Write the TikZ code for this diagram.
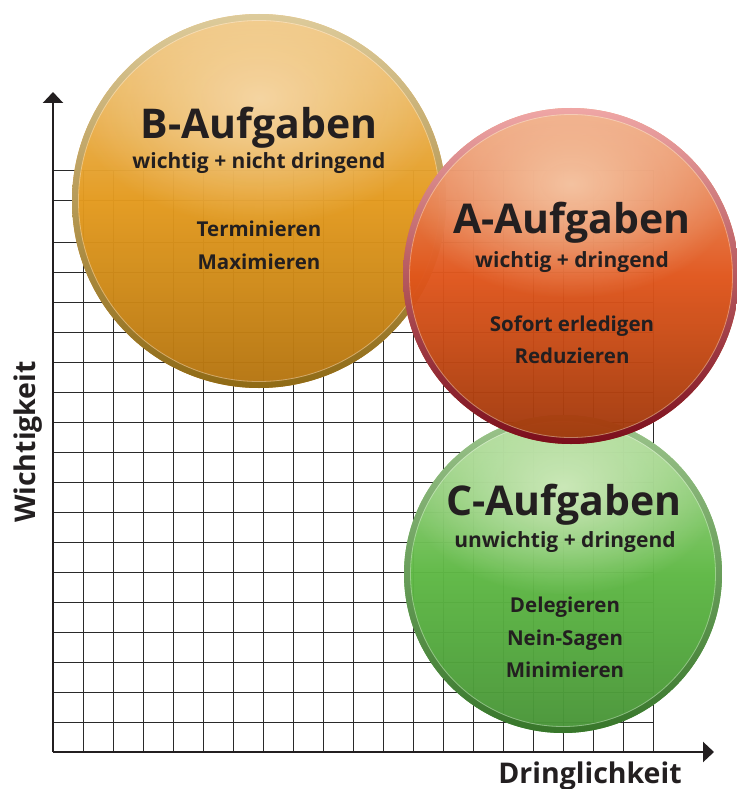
\documentclass[tikz,border=0pt]{standalone}
\usepackage{fontspec}
\setmainfont{Open Sans}
\usetikzlibrary{arrows.meta,fadings}
\definecolor{ink}{HTML}{231F20}
\definecolor{gridgray}{HTML}{2A2A2A}
% colours of the three balls
\definecolor{bSpot}{HTML}{F5D5A2}
\definecolor{bLight}{HTML}{F0C680}
\definecolor{bMid}{HTML}{E39A1E}
\definecolor{bDark}{HTML}{B47410}
\definecolor{bRingTop}{HTML}{DDCB9C}
\definecolor{bRingBot}{HTML}{8E6A16}
\definecolor{aSpot}{HTML}{F4C2A0}
\definecolor{aLight}{HTML}{F0AA84}
\definecolor{aMid}{HTML}{E0561C}
\definecolor{aDark}{HTML}{9E380C}
\definecolor{aRingTop}{HTML}{EFA6A6}
\definecolor{aRingBot}{HTML}{7A0C1C}
\definecolor{cSpot}{HTML}{CBE8B8}
\definecolor{cLight}{HTML}{B0DB9A}
\definecolor{cMid}{HTML}{5EB844}
\definecolor{cDark}{HTML}{489438}
\definecolor{cRingTop}{HTML}{9CC48C}
\definecolor{cRingBot}{HTML}{37762A}
\tikzfading[name=spot, inner color=transparent!0, outer color=transparent!100]
\tikzstyle{title}=[font=\bfseries\fontsize{41}{41}\selectfont, text=ink, anchor=base, inner sep=0pt]
\tikzstyle{subtitle}=[font=\bfseries\fontsize{21}{21}\selectfont, text=ink, anchor=base, inner sep=0pt]
\tikzstyle{task}=[font=\bfseries\fontsize{20.5}{20.5}\selectfont, text=ink, anchor=base, inner sep=0pt]
\tikzstyle{axislabel}=[font=\bfseries\fontsize{28.5}{28.5}\selectfont, text=ink, anchor=base, inner sep=0pt]
\tikzstyle{gridline}=[line width=1pt, color=gridgray]
\tikzstyle{axis}=[line width=2.4pt, color=ink, -{Triangle[length=11pt,width=20pt]}]

\begin{document}
\begin{tikzpicture}[x=1pt, y=-1pt]
    \useasboundingbox (0,0) rectangle (736,789);
    % grid behind the balls
    \foreach \y in {170, 200}
    \draw[gridline] (53,\y) -- (653,\y);
    \foreach \y in {242,272,...,722}
    \draw[gridline] (53,\y) -- (653,\y);
    \foreach \x in {83,113,...,653}
    \draw[gridline] (\x,170) -- (\x,752);

    % axes
    \coordinate (origin) at (53,752);
    \coordinate (ytip) at (53,92);
    \coordinate (xtip) at (714,752);
    \draw[axis] (origin) -- (ytip);
    \draw[axis] (origin) -- (xtip);

    % the balls, A on top
    \coordinate (bcenter) at (259,201);
    \coordinate (ccenter) at (563,574);
    \coordinate (acenter) at (571,276);
    \foreach \c/\r/\p/\l/\m/\d/\t/\b in {bcenter/187/bSpot/bLight/bMid/bDark/bRingTop/bRingBot,
        ccenter/159/cSpot/cLight/cMid/cDark/cRingTop/cRingBot,
        acenter/168/aSpot/aLight/aMid/aDark/aRingTop/aRingBot}{
      \begin{scope}
        \clip (\c) circle[radius=\r];
        \shade[top color=\l, bottom color=\d, middle color=\m, fill opacity=.97]
        (\c) circle[radius=\r];
        % soft highlight near the top
        \fill[\p, path fading=spot]
        (\c) ++(0,-.55*\r) ellipse[x radius=1.0*\r, y radius=.68*\r];
      \end{scope}
      \shade[top color=\t, bottom color=\b, even odd rule, fill opacity=.97]
      (\c) circle[radius=\r] (\c) circle[radius=\r-6];
      \draw[white, opacity=.35, line width=.8pt] (\c) circle[radius=\r-6.5];
    }

    % B texts
    \node[title] (btitle) at (259,139) {B-Aufgaben};
    \node[subtitle] (bsub) at (259,168) {wichtig + nicht dringend};
    \node[task] (bterm) at (259,236) {Terminieren};
    \node[task] (bmax) at (259,269) {Maximieren};
    % A texts
    \node[title] (atitle) at (572,233) {A-Aufgaben};
    \node[subtitle] (asub) at (572,267) {wichtig + dringend};
    \node[task] (asofort) at (572,331) {Sofort erledigen};
    \node[task] (ared) at (572,363) {Reduzieren};
    % C texts
    \node[title] (ctitle) at (564,515) {C-Aufgaben};
    \node[subtitle] (csub) at (565,547) {unwichtig + dringend};
    \node[task] (cdel) at (565,612) {Delegieren};
    \node[task] (cnein) at (565,645) {Nein-Sagen};
    \node[task] (cmin) at (565,677) {Minimieren};

    % axis labels
    \node[axislabel, rotate=90] (ylabel) at (35,442) {Wichtigkeit};
    \node[axislabel] (xlabel) at (590,783) {Dringlichkeit};
\end{tikzpicture}
\end{document}
